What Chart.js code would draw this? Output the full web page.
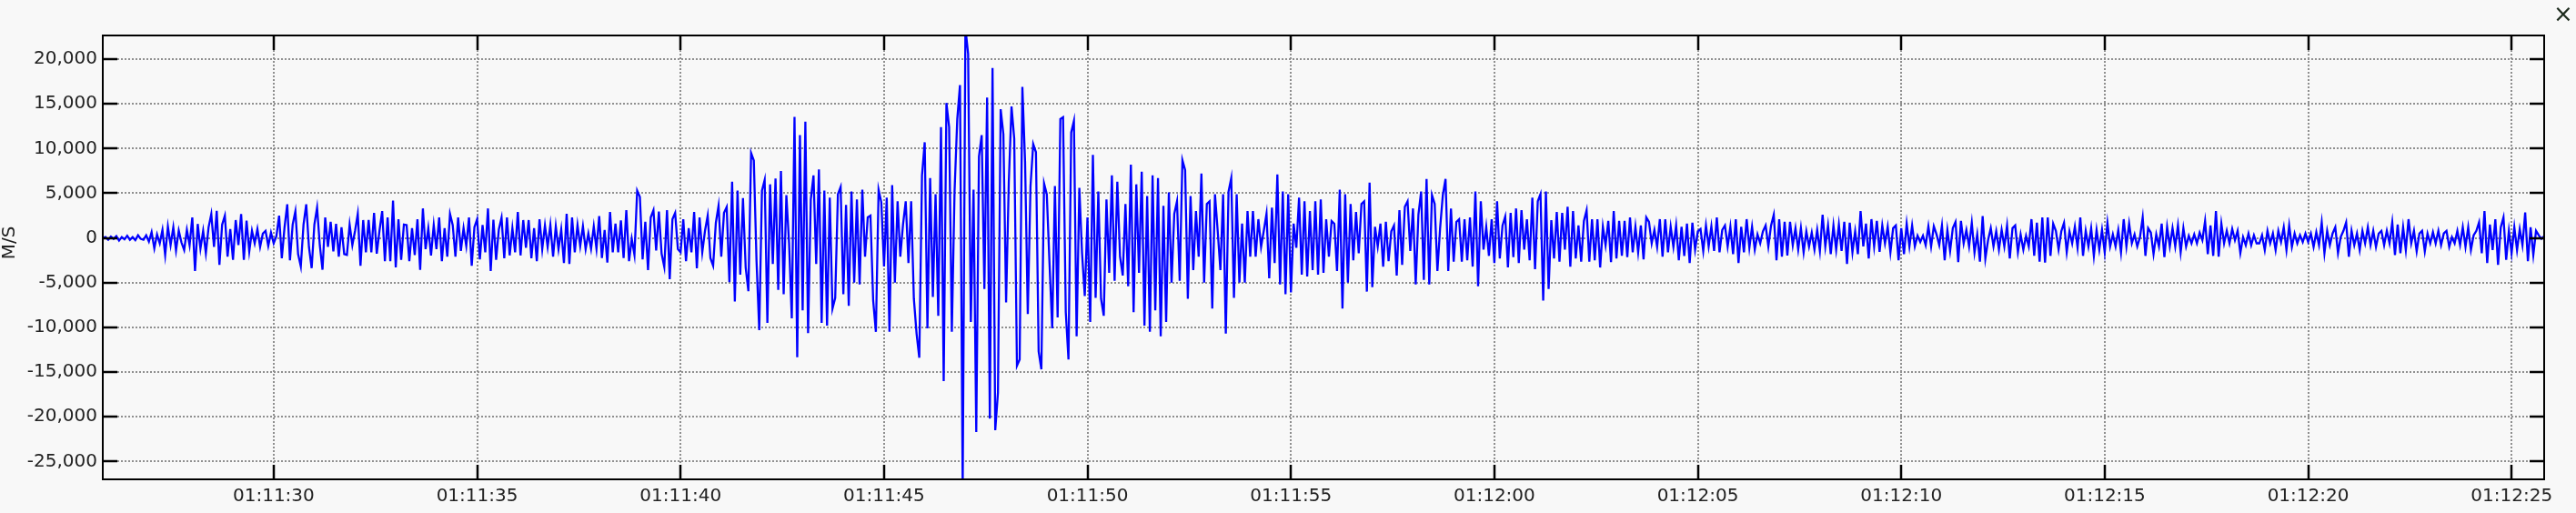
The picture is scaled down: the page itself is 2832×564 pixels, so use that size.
<!DOCTYPE html>
<html>
<head>
<meta charset="utf-8">
<script src="https://cdn.jsdelivr.net/npm/chart.js@4.4.1/dist/chart.umd.min.js"></script>
<style>
html,body{margin:0;padding:0;background:#f8f8f8;overflow:hidden}
canvas{display:block}
</style>
</head>
<body>
<canvas id="c" width="2832" height="564"></canvas>
<script>
// ---- data (seconds after 01:11:00) ----
const START_SECOND = 25.8;
const END_SECOND = 85.8;
const SAMPLES_PER_SECOND = 15;
const X_TICK_SECONDS = [30, 35, 40, 45, 50, 55, 60, 65, 70, 75, 80, 85];
const X_TICK_LABELS = ['01:11:30','01:11:35','01:11:40','01:11:45','01:11:50','01:11:55','01:12:00','01:12:05','01:12:10','01:12:15','01:12:20','01:12:25'];
const Y_TICKS = [-25000, -20000, -15000, -10000, -5000, 0, 5000, 10000, 15000, 20000];
const Y_MIN = -27000;
const Y_MAX = 22650;
const Y_TITLE = 'M/S';

// one row per second, 15 samples per second
const velocity = [
0,100,-200,150,-100,200,-300,100,-150,250,-200,100,-250,300,-100,
-200,300,-400,650,-1170,400,-600,900,-1900,1280,-800,1200,-1400,840,-500,
-1350,900,-800,2300,-3700,1570,-1200,800,-1700,1200,2670,-1000,3040,-3000,1500,
2500,-2100,1000,-2450,2000,-800,2670,-2450,1940,-1500,800,-600,1000,-1000,500,
800,-900,600,-600,200,2500,-2270,1200,3770,-2500,1500,3000,-1800,-3180,1500,
3770,-1000,-3370,1500,3400,-800,-3550,2300,-1000,1800,-1500,1570,-2100,1200,-1800,
-1900,1500,-800,800,2700,-3100,2000,-1600,2000,-1600,2800,-1760,800,3000,-2600,
2300,-2600,4170,-3300,2100,-2450,1500,1450,-2600,1100,-1900,2100,-3560,3300,-1250,
1100,-1950,1450,-1250,2300,-2600,1100,-2100,2700,1450,-2100,2300,-1450,1100,-900,
2300,-3100,1200,2100,-2400,1450,-1600,3300,-3700,2050,-2450,950,2270,-2270,2300,
-1950,1100,-1600,2900,-1950,2000,-1100,2000,-2270,1100,-2600,2100,-1250,1400,-1000,
1450,-2100,1300,-1250,950,-2800,2700,-2900,2300,-1600,1450,-900,1300,-1250,500,
-1200,1280,-1200,2450,-2250,900,-2750,2900,-1600,1600,-1600,1950,-2250,3100,-2600,
-100,-1900,5300,4600,-2400,1800,-3600,2300,3100,-1400,2950,-1750,-3250,3100,-4600,
2100,2800,-1250,-1600,2100,-2600,1100,-1600,2900,-3400,2300,-1600,800,2500,-2250,
-3100,1700,3600,-2100,2800,3460,-4940,6300,-7100,5300,-4100,4470,-3300,-5950,9500,
8670,-2600,-10300,5300,6500,-9500,6000,-2900,6650,-5800,7500,-6300,4800,-600,-9000,
13540,-13340,11500,-8100,13000,-10650,4300,7000,-2900,7660,-9500,5300,-9800,4500,-7900,
-6700,4900,5700,-6300,3700,-7600,5200,-5000,4300,-5200,5400,-2100,2300,2500,-7000,
-10500,5400,4000,-3200,4500,-10500,5900,-5000,4100,-2100,1500,4100,-2800,4100,-6800,
-10700,-13400,7000,10700,-10100,6700,-6600,4900,-8700,12400,-16000,15100,12400,-10500,5200,
13300,17100,-28000,23500,20600,-9400,5400,-21700,9100,11500,-5700,15700,-20200,19000,-21500,
-17300,14400,11600,-7200,6300,14700,11100,-14300,-13600,16900,8500,-8500,5800,10500,9600,
-12700,-14700,6100,4900,-2800,-10100,5800,-8900,13300,13500,-8300,-13600,11800,13100,-11000,
5600,-1700,-6500,2300,-9400,9300,-6700,5200,-6800,-8700,4300,-3900,7000,-4800,6300,
-2100,-4200,3800,-5400,8200,-8300,6000,-3900,7400,-9800,4700,-10500,7000,-8100,6700,
-11000,3600,-9400,5100,-5000,2700,4100,-4800,8700,7600,-6800,4700,-3600,3000,-2100,
7200,-5000,3800,4100,-7900,4900,800,-3600,4900,-10700,5200,6700,-6700,4900,-5000,
1600,-5000,3000,-2100,3000,-2100,2100,-1000,800,2700,-4500,3400,-2800,7100,-5200,
5200,-6300,4900,-6100,1600,-1100,4500,-4100,4100,-4300,3000,-3600,4100,-4100,4300,
-3900,2100,-2100,1900,1600,-3700,5400,-7900,4900,-5000,3800,-2500,2900,-1700,3800,
4100,-6000,6200,-5500,1250,-950,1600,-3200,1800,-2600,750,1400,-4200,3100,-3000,
3500,4100,-1450,3300,-5200,2600,5200,-4700,6600,-5200,4800,3800,-3700,1100,4800,
6600,-3700,3300,-2650,1800,2100,-2650,2100,-2500,2300,-3200,5200,-5400,4100,-1300,
1250,-2000,2100,-2800,4100,-2300,1400,2400,-3300,2800,-2150,3300,-2800,3100,-1300,
2100,-2500,4500,-3500,4100,4900,-7000,5200,-5700,2000,-2300,2900,-2650,2800,-1300,
3500,-3200,3000,-2300,1400,-2650,1900,3100,-2650,2100,-2500,2100,-3300,1250,-800,
1900,-2700,3000,-2300,1900,-2000,1900,-2150,2300,-1600,1250,-1600,1400,-2400,2300,
1800,-600,900,-1000,2100,-2100,2100,-1600,1250,-1000,1400,-2500,1250,-2000,1600,
-2800,1700,-1300,750,1000,-1450,1400,-950,1300,-1450,2300,-1600,900,1400,-950,
1250,-1800,2100,-2800,1250,-1600,2100,-1100,1250,-1300,400,-600,750,1400,-950,
1400,2600,-2500,2100,-2100,1800,-1950,1800,-800,1100,-1300,1100,-1600,750,-950,
600,-1300,900,-1450,2600,-950,1400,-1800,1400,-1300,1500,-1460,1800,-2900,1700,
-1600,750,-1800,3000,-950,1600,-2300,2100,-950,1900,-1550,1400,-600,1250,-1600,
1100,1400,-2500,1100,-1800,1600,-950,1400,-950,250,-450,250,-800,1300,-950,
1300,400,-800,1400,-2500,900,-1460,1100,1800,-2700,1900,-600,900,-950,1700,
-1650,400,-2650,2450,-2300,-250,1100,-950,750,-1300,900,-950,1400,-2300,1100,
1400,-1600,400,-1300,250,-950,2100,-2000,1700,-2650,2300,-2750,2300,-2000,1600,
800,-1300,750,1700,-1600,750,-600,1260,-1100,2300,-2000,800,-950,1100,-2000,
900,-1300,900,-1600,1700,-950,400,-950,900,-1600,2100,-950,1600,-600,400,
-950,100,2300,-2000,1100,600,-1800,400,-950,1600,-2150,1250,-950,1100,-950,
1400,-1600,1100,-950,250,-600,400,-600,600,-250,1900,-1800,1400,-2000,3000,
-2100,1600,-600,800,-600,1000,-250,800,-1700,100,-800,500,-800,300,-600,
-600,300,-1350,800,-600,500,-1350,800,-450,1200,-1350,1400,-1000,500,-600,
300,-450,500,-450,500,-1000,650,-800,1750,-1700,800,-800,500,1200,-1700,
100,800,1750,-2100,800,-800,500,-1350,800,-600,1200,-800,800,-1000,500,
800,-800,800,-600,1750,-1900,1500,-1700,1200,-1350,2100,-600,800,-1500,500,
800,-1500,500,-600,650,-600,800,-800,500,800,-1000,100,-600,800,-800,
1200,-1000,1200,-1350,300,800,1750,-1700,3000,-2800,1500,-1350,2100,-3000,1200,
2300,-2450,800,-1700,1200,-1350,1000,-800,2850,-2600,1200,-1900,800,300,-100,
200
];

// ---- chart ----
const FONT_FAMILY = '"DejaVu Sans", sans-serif';
const FONT = {family: FONT_FAMILY, size: 20};
const TEXT_COLOR = '#222222';
const GRID_COLOR = '#8f8f8f';
const TICK_LEN = 16;

const points = velocity.map((v, i) => ({x: START_SECOND + i / SAMPLES_PER_SECOND, y: v}));

const framePlugin = {
  id: 'frame',
  beforeDraw(chart) {
    const ctx = chart.ctx;
    ctx.save();
    ctx.fillStyle = '#f8f8f8';
    ctx.fillRect(0, 0, chart.width, chart.height);
    ctx.restore();
  },
  afterDraw(chart) {
    const {ctx, chartArea: a, scales: {x, y}} = chart;
    ctx.save();
    ctx.strokeStyle = '#000';
    ctx.lineWidth = 2.5;
    ctx.beginPath();
    Y_TICKS.forEach(v => {
      const py = Math.round(y.getPixelForValue(v));
      ctx.moveTo(a.left, py); ctx.lineTo(a.left + TICK_LEN, py);
      ctx.moveTo(a.right, py); ctx.lineTo(a.right - TICK_LEN, py);
    });
    X_TICK_SECONDS.forEach(v => {
      const px = Math.round(x.getPixelForValue(v));
      ctx.moveTo(px, a.top); ctx.lineTo(px, a.top + TICK_LEN);
      ctx.moveTo(px, a.bottom); ctx.lineTo(px, a.bottom - TICK_LEN);
    });
    ctx.stroke();
    ctx.lineWidth = 2;
    ctx.strokeRect(a.left, a.top, a.right - a.left, a.bottom - a.top);
    // axis title
    ctx.fillStyle = TEXT_COLOR;
    ctx.font = '20px ' + FONT_FAMILY;
    ctx.textAlign = 'center';
    ctx.textBaseline = 'middle';
    ctx.translate(11, 267);
    ctx.rotate(-Math.PI / 2);
    ctx.fillText(Y_TITLE, 0, 0);
    ctx.setTransform(1, 0, 0, 1, 0, 0);
    // close mark
    ctx.fillStyle = '#1d2b1d';
    ctx.font = '26px ' + FONT_FAMILY;
    ctx.fillText('\u00d7', 2818, 17);
    ctx.restore();
  }
};

new Chart(document.getElementById('c'), {
  type: 'line',
  data: {
    datasets: [{
      data: points,
      borderColor: '#0000ff',
      borderWidth: 2.3,
      pointRadius: 0,
      tension: 0,
      fill: false
    }]
  },
  options: {
    responsive: false,
    animation: false,
    devicePixelRatio: 1,
    parsing: false,
    normalized: true,
    layout: {padding: {top: 39, right: 35, bottom: 0, left: 0}},
    plugins: {legend: {display: false}, tooltip: {enabled: false}},
    scales: {
      x: {
        type: 'linear',
        min: START_SECOND,
        max: END_SECOND,
        afterBuildTicks: s => { s.ticks = X_TICK_SECONDS.map(v => ({value: v})); },
        afterFit: s => { s.height = 37; },
        ticks: {
          callback: (v, i) => X_TICK_LABELS[i],
          font: FONT, color: TEXT_COLOR, padding: 7,
          maxRotation: 0, autoSkip: false
        },
        grid: {color: GRID_COLOR, lineWidth: 2, drawTicks: false},
        border: {display: false, dash: [2, 2]}
      },
      y: {
        type: 'linear',
        min: Y_MIN,
        max: Y_MAX,
        afterBuildTicks: s => { s.ticks = Y_TICKS.map(v => ({value: v})); },
        afterFit: s => { s.width = 113; },
        ticks: {
          callback: v => v.toLocaleString('en-US'),
          font: FONT, color: TEXT_COLOR, padding: 6, autoSkip: false
        },
        grid: {color: GRID_COLOR, lineWidth: 2, drawTicks: false},
        border: {display: false, dash: [2, 2]}
      }
    }
  },
  plugins: [framePlugin]
});
</script>
</body>
</html>
